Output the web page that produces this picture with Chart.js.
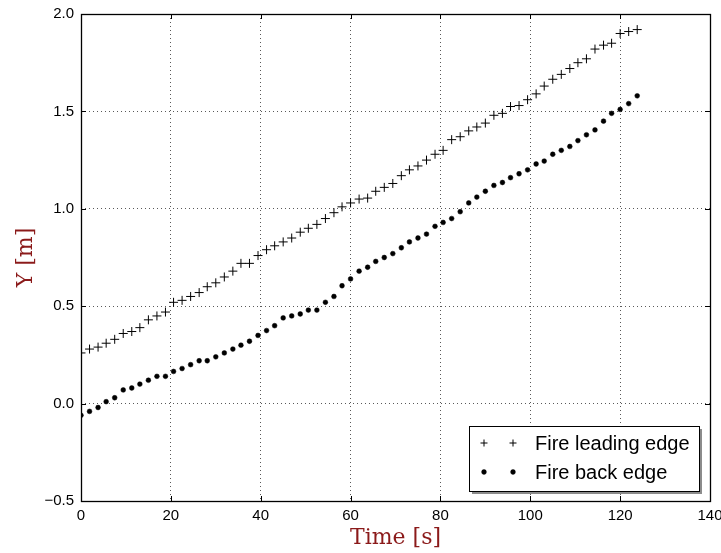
<!DOCTYPE html>
<html>
<head>
<meta charset="utf-8">
<title>Fire edges</title>
<script src="https://cdn.jsdelivr.net/npm/chart.js@4.4.1/dist/chart.umd.min.js"></script>
<style>
  html, body { margin: 0; padding: 0; background: #fff; }
  #chart { display: block; }
</style>
</head>
<body>
<canvas id="chart" width="721" height="553"></canvas>
<script>
// sample times [s]
const times = [
  0, 1.9, 3.8, 5.6, 7.5, 9.4, 11.3, 13.1, 15, 16.9, 18.8, 20.6, 22.5, 24.4, 26.3, 28.1,
  30, 31.9, 33.8, 35.6, 37.5, 39.4, 41.3, 43.1, 45, 46.9, 48.8, 50.6, 52.5, 54.4, 56.3, 58.1,
  60, 61.9, 63.8, 65.6, 67.5, 69.4, 71.3, 73.1, 75, 76.9, 78.8, 80.6, 82.5, 84.4, 86.3, 88.1,
  90, 91.9, 93.8, 95.6, 97.5, 99.4, 101.3, 103.1, 105, 106.9, 108.8, 110.6, 112.5, 114.4,
  116.3, 118.1, 120, 121.9, 123.8
];

// Y [m] of the leading edge
const leadingEdge = [
  0.26, 0.28, 0.29, 0.31, 0.33, 0.36, 0.37, 0.39, 0.43, 0.45, 0.47, 0.52, 0.53, 0.55, 0.57, 0.60,
  0.62, 0.65, 0.68, 0.72, 0.72, 0.76, 0.79, 0.81, 0.83, 0.85, 0.88, 0.90, 0.92, 0.95, 0.98, 1.01,
  1.03, 1.05, 1.055, 1.09, 1.11, 1.13, 1.17, 1.20, 1.22, 1.25, 1.28, 1.30, 1.355, 1.37, 1.40, 1.42,
  1.44, 1.48, 1.49, 1.525, 1.53, 1.56, 1.59, 1.63, 1.665, 1.69, 1.72, 1.75, 1.77, 1.82,
  1.84, 1.85, 1.90, 1.91, 1.92
];

// Y [m] of the back edge
const backEdge = [
  -0.06, -0.04, -0.02, 0.01, 0.03, 0.07, 0.08, 0.10, 0.12, 0.14, 0.14, 0.165, 0.18, 0.20, 0.22, 0.22,
  0.24, 0.26, 0.28, 0.30, 0.32, 0.35, 0.375, 0.40, 0.44, 0.45, 0.46, 0.48, 0.48, 0.52, 0.55, 0.605,
  0.64, 0.68, 0.70, 0.73, 0.75, 0.77, 0.80, 0.83, 0.85, 0.87, 0.91, 0.93, 0.95, 0.985, 1.03, 1.06,
  1.09, 1.12, 1.135, 1.16, 1.18, 1.20, 1.23, 1.245, 1.28, 1.30, 1.32, 1.35, 1.38, 1.405,
  1.45, 1.49, 1.51, 1.54, 1.58
];

const seriesNames = ["Fire leading edge", "Fire back edge"];
const xRange = [0, 140];
const yRange = [-0.5, 2.0];

const tickFont = { family: "'Liberation Sans', Arial, sans-serif", size: 15 };
const titleFont = { family: "'DejaVu Serif', serif", size: 22 };
const titleColor = "#8b1a1a";

// frame round the plot + ticks pointing inward on all four sides
const frameTicks = {
  id: "frameTicks",
  afterDatasetsDraw(chart) {
    const { ctx, chartArea: a, scales } = chart;
    const len = 5;
    ctx.save();
    ctx.strokeStyle = "#000";
    ctx.lineWidth = 1;
    ctx.beginPath();
    scales.x.ticks.forEach(t => {
      const px = Math.round(scales.x.getPixelForValue(t.value)) + 0.5;
      ctx.moveTo(px, a.bottom); ctx.lineTo(px, a.bottom - len);
      ctx.moveTo(px, a.top); ctx.lineTo(px, a.top + len);
    });
    scales.y.ticks.forEach(t => {
      const py = Math.round(scales.y.getPixelForValue(t.value)) + 0.5;
      ctx.moveTo(a.left, py); ctx.lineTo(a.left + len, py);
      ctx.moveTo(a.right, py); ctx.lineTo(a.right - len, py);
    });
    ctx.stroke();
    ctx.lineWidth = 1.3;
    ctx.strokeRect(Math.round(a.left) + 0.5, Math.round(a.top) + 0.5,
                   Math.round(a.right - a.left), Math.round(a.bottom - a.top));
    ctx.restore();
  }
};

// matplotlib-like legend box with shadow, two markers per entry
const boxLegend = {
  id: "boxLegend",
  afterDraw(chart) {
    const { ctx, chartArea: a } = chart;
    const w = 230, h = 65;
    const x = Math.round(a.right - 11 - w), y = Math.round(a.bottom - 10 - h);
    ctx.save();
    ctx.fillStyle = "#8c8c8c";
    ctx.fillRect(x + 3, y + 3, w, h);
    ctx.fillStyle = "#fff";
    ctx.fillRect(x, y, w, h);
    ctx.strokeStyle = "#000";
    ctx.lineWidth = 1;
    ctx.strokeRect(x + 0.5, y + 0.5, w, h);
    chart.data.datasets.forEach((ds, i) => {
      const cy = y + 17 + i * 29;
      ctx.fillStyle = ds.backgroundColor;
      ctx.strokeStyle = ds.borderColor;
      ctx.lineWidth = ds.borderWidth;
      [x + 15, x + 44].forEach(px => {
        Chart.helpers.drawPoint(ctx, {
          pointStyle: ds.pointStyle,
          radius: ds.pointStyle === "cross" ? 3.5 : ds.pointRadius,
          borderWidth: ds.borderWidth,
          rotation: 0
        }, px, cy);
      });
      ctx.fillStyle = "#000";
      ctx.font = "20px 'Liberation Sans', Arial, sans-serif";
      ctx.textBaseline = "middle";
      ctx.textAlign = "left";
      ctx.fillText(ds.label, x + 66, cy + 1);
    });
    ctx.restore();
  }
};

new Chart(document.getElementById("chart"), {
  type: "scatter",
  data: {
    datasets: [
      {
        label: seriesNames[0],
        data: times.map((t, i) => ({ x: t, y: leadingEdge[i] })),
        pointStyle: "cross",
        pointRadius: 4.5,
        borderWidth: 1,
        borderColor: "#000",
        backgroundColor: "#000",
        clip: 0
      },
      {
        label: seriesNames[1],
        data: times.map((t, i) => ({ x: t, y: backEdge[i] })),
        pointStyle: "circle",
        pointRadius: 2.4,
        borderWidth: 0.5,
        borderColor: "#000",
        backgroundColor: "#000",
        clip: 0
      }
    ]
  },
  options: {
    responsive: false,
    animation: false,
    layout: { padding: { top: 14, right: 11, left: 0, bottom: 0 } },
    plugins: {
      legend: { display: false },
      tooltip: { enabled: false }
    },
    scales: {
      x: {
        type: "linear",
        min: xRange[0],
        max: xRange[1],
        ticks: { stepSize: 20, color: "#000", font: tickFont, padding: 6, maxRotation: 0 },
        grid: { color: "rgba(0,0,0,0.65)", lineWidth: 1, drawTicks: false },
        border: { display: false, dash: [1, 3] },
        title: { display: true, text: "Time [s]", color: titleColor, font: titleFont, padding: { top: 0, bottom: 2 } },
        afterFit(scale) {
          scale.height = 52;
          scale.paddingLeft = 0;
          scale.paddingRight = 0;
        }
      },
      y: {
        type: "linear",
        min: yRange[0],
        max: yRange[1],
        ticks: {
          stepSize: 0.5, color: "#000", font: tickFont, padding: 7,
          callback: v => v.toFixed(1).replace("-", "\u2212")
        },
        grid: { color: "rgba(0,0,0,0.65)", lineWidth: 1, drawTicks: false },
        border: { display: false, dash: [1, 3] },
        title: { display: true, text: "Y [m]", color: titleColor, font: titleFont, padding: { top: 13, bottom: 0 } },
        afterFit(scale) {
          scale.width = 81;
          scale.paddingTop = 0;
          scale.paddingBottom = 0;
        }
      }
    }
  },
  plugins: [frameTicks, boxLegend]
});
</script>
</body>
</html>
